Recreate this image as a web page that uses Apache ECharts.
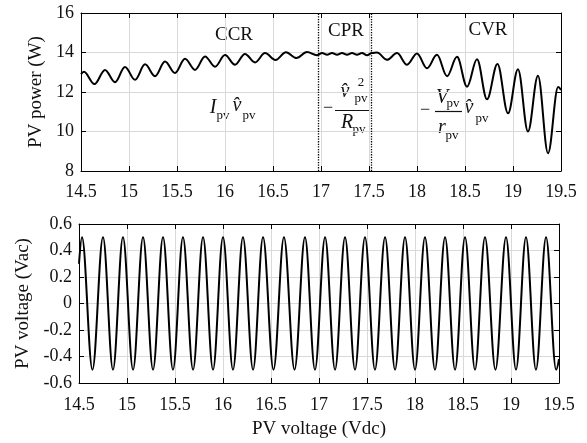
<!DOCTYPE html>
<html>
<head>
<meta charset="utf-8">
<script src="https://cdn.jsdelivr.net/npm/echarts@6/dist/echarts.min.js"></script>
<style>html,body{margin:0;padding:0;background:#fff;}#c{width:587px;height:443px;}</style>
</head>
<body>
<div id="c"></div>
<script>
// ---- data ----
const xTicks = [14.5, 19.5, 0.5];             // min, max, step of PV voltage (Vdc)
const powerTicks = [8, 16, 2];
const acTicks = [-0.6, 0.6, 0.2];
const regionBounds = [16.97, 17.52];           // dotted lines CCR|CPR|CVR

const powerVdc = [14.5, 14.531, 14.64, 14.75, 14.854, 14.958, 15.063, 15.167, 15.271, 15.375,
  15.479, 15.583, 15.688, 15.792, 15.896, 16.0, 16.104, 16.208, 16.313, 16.417,
  16.526, 16.635, 16.745, 16.854, 16.958, 17.011, 17.063, 17.115, 17.167, 17.219,
  17.271, 17.323, 17.375, 17.427, 17.479, 17.531, 17.583, 17.688, 17.792, 17.896,
  18.0, 18.104, 18.208, 18.313, 18.417, 18.521, 18.625, 18.729, 18.838, 18.948,
  19.052, 19.156, 19.26, 19.365, 19.47, 19.5];
const powerW = [12.9, 13.02, 12.40, 13.12, 12.50, 13.27, 12.62, 13.40, 12.80, 13.54,
  12.96, 13.68, 13.12, 13.80, 13.28, 13.87, 13.38, 13.93, 13.50, 13.97,
  13.62, 14.01, 13.72, 14.02, 13.86, 13.97, 13.88, 13.97, 13.88, 13.97,
  13.88, 13.97, 13.88, 13.97, 13.86, 13.97, 14.0, 13.63, 13.97, 13.38,
  13.95, 13.20, 13.88, 12.80, 13.78, 12.27, 13.66, 11.63, 13.42, 10.92,
  13.15, 10.0, 12.82, 8.9, 12.25, 12.1];

const acVdc = [14.5, 14.531, 14.64, 14.75, 14.854, 14.958, 15.063, 15.167, 15.271, 15.375,
  15.479, 15.583, 15.688, 15.792, 15.896, 16.0, 16.104, 16.208, 16.313, 16.417,
  16.526, 16.635, 16.745, 16.854, 16.958, 17.063, 17.167, 17.271, 17.375, 17.479,
  17.583, 17.688, 17.792, 17.896, 18.0, 18.104, 18.208, 18.313, 18.417, 18.521,
  18.625, 18.729, 18.838, 18.948, 19.052, 19.156, 19.26, 19.365, 19.47, 19.5];
const acVac = [0.3, 0.5, -0.5, 0.5, -0.5, 0.5, -0.5, 0.5, -0.5, 0.5,
  -0.5, 0.5, -0.5, 0.5, -0.5, 0.5, -0.5, 0.5, -0.5, 0.5,
  -0.5, 0.5, -0.5, 0.5, -0.5, 0.5, -0.5, 0.5, -0.5, 0.5,
  -0.5, 0.5, -0.5, 0.5, -0.5, 0.5, -0.5, 0.5, -0.5, 0.5,
  -0.5, 0.5, -0.5, 0.5, -0.5, 0.5, -0.5, 0.5, -0.5, -0.42];

const regionNames = ['CCR', 'CPR', 'CVR'];

// ---- chart ----
const FONT = '"Liberation Serif", "Times New Roman", serif';
const chart = echarts.init(document.getElementById('c'), null, {renderer: 'canvas'});

function xAx(grid, pos, labels, margin) {
  return {
    type: 'value', gridIndex: grid, position: pos,
    min: xTicks[0], max: xTicks[1], interval: xTicks[2],
    axisLine: {show: true, onZero: false, lineStyle: {color: '#000', width: 1}},
    axisTick: {show: true, inside: true, length: 5, lineStyle: {color: '#000'}},
    axisLabel: {show: labels, color: '#111', fontFamily: FONT, fontSize: 18, margin: margin,
      showMinLabel: true, showMaxLabel: true},
    splitLine: {show: labels, lineStyle: {color: '#d9d9d9', width: 1}}
  };
}
function yAx(grid, pos, labels, ticks, name, gap) {
  return {
    type: 'value', gridIndex: grid, position: pos,
    min: ticks[0], max: ticks[1], interval: ticks[2],
    name: name || '', nameLocation: 'middle', nameGap: gap || 0,
    nameTextStyle: {color: '#111', fontFamily: FONT, fontSize: 19},
    axisLine: {show: true, onZero: false, lineStyle: {color: '#000', width: 1}},
    axisTick: {show: true, inside: true, length: 5, lineStyle: {color: '#000'}},
    axisLabel: {show: labels, color: '#111', fontFamily: FONT, fontSize: 18, margin: 7,
      showMinLabel: true, showMaxLabel: true},
    splitLine: {show: labels, lineStyle: {color: '#d9d9d9', width: 1}}
  };
}

const xAxes = [xAx(0, 'bottom', true, 12), xAx(0, 'top', false, 0), xAx(1, 'bottom', true, 13), xAx(1, 'top', false, 0)];
xAxes[2].name = 'PV voltage (Vdc)';
xAxes[2].nameLocation = 'middle';
xAxes[2].nameGap = 37;
xAxes[2].nameTextStyle = {color: '#111', fontFamily: FONT, fontSize: 19};

const it = 'italic 20px ' + FONT;
const rm = '13px ' + FONT;
const lab = '19px ' + FONT;
function txt(s, x, y, font) {
  return {type: 'text', x: x, y: y, silent: true,
    style: {text: s, font: font, fill: '#111', align: 'center', verticalAlign: 'middle',
      textAlign: 'center', textVerticalAlign: 'middle'}};
}
function hline(x1, x2, y) {
  return {type: 'line', silent: true, shape: {x1: x1, y1: y, x2: x2, y2: y},
    style: {stroke: '#111', lineWidth: 1.2}};
}

const graphics = [
  txt(regionNames[0], 234, 35, lab), txt(regionNames[1], 346, 31, lab), txt(regionNames[2], 488, 30, lab),
  // I_pv v̂_pv
  txt('I', 213, 107.5, it), txt('pv', 223, 116, rm), txt('v\u0302', 237, 106, it), txt('pv', 249, 116, rm),
  // − v̂²_pv / R_pv
  txt('\u2212', 328, 108, '18px ' + FONT), txt('v\u0302', 345, 92, it), txt('2', 361, 83, rm), txt('pv', 361, 99, rm),
  hline(335, 370, 110.5), txt('R', 347, 123, it), txt('pv', 359, 130, rm),
  // − V_pv / r_pv v̂_pv
  txt('\u2212', 425, 110, '18px ' + FONT), txt('V', 442, 98, it), txt('pv', 453, 104, rm),
  hline(435, 462, 111.5), txt('r', 442, 128, it), txt('pv', 452, 136, rm),
  txt('v\u0302', 469, 108, it), txt('pv', 482, 119, rm)
];

chart.setOption({
  animation: false,
  backgroundColor: '#fff',
  grid: [
    {left: 81, top: 13, width: 480, height: 158},
    {left: 79, top: 224, width: 480, height: 159}
  ],
  xAxis: xAxes,
  yAxis: [
    yAx(0, 'left', true, powerTicks, 'PV power (W)', 34),
    yAx(0, 'right', false, powerTicks),
    yAx(1, 'left', true, acTicks, 'PV voltage (Vac)', 43),
    yAx(1, 'right', false, acTicks)
  ],
  series: [
    {
      type: 'line', xAxisIndex: 0, yAxisIndex: 0,
      data: powerVdc.map((v, i) => [v, powerW[i]]),
      smooth: 0.36, smoothMonotone: 'x', showSymbol: false, silent: true,
      lineStyle: {color: '#000', width: 2},
      markLine: {
        silent: true, symbol: ['none', 'none'], label: {show: false},
        lineStyle: {color: '#000', type: 'dotted', width: 1.3},
        data: regionBounds.map(b => ({xAxis: b}))
      }
    },
    {
      type: 'line', xAxisIndex: 2, yAxisIndex: 2,
      data: acVdc.map((v, i) => [v, acVac[i]]),
      smooth: 0.36, smoothMonotone: 'x', showSymbol: false, silent: true,
      lineStyle: {color: '#000', width: 2}
    }
  ],
  graphic: graphics
});
</script>
</body>
</html>
